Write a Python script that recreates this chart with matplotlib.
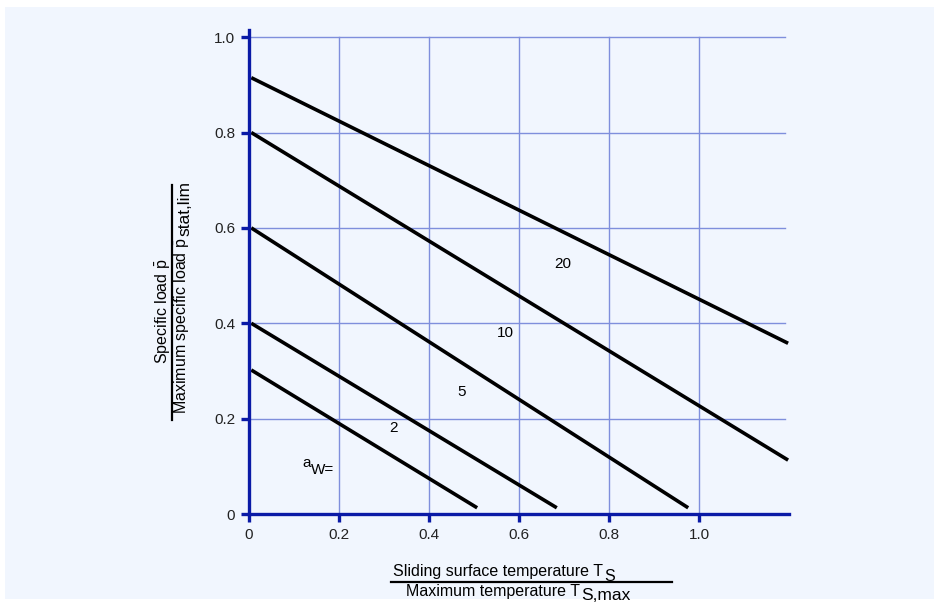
import numpy as np
import matplotlib
matplotlib.use("Agg")
from matplotlib import pyplot as plt
from matplotlib.lines import Line2D
from matplotlib.patches import Rectangle

# Werte
curve_names = ["1", "2", "5", "10", "20"]
x_start = [0.005, 0.005, 0.005, 0.005, 0.005]
y_start = [0.302, 0.400, 0.600, 0.800, 0.915]
x_end = [0.507, 0.684, 0.976, 1.198, 1.198]
y_end = [0.013, 0.013, 0.013, 0.113, 0.358]

label_text = ["2", "5", "10", "20"]
label_x = [0.320, 0.473, 0.569, 0.698]
label_y = [0.180, 0.256, 0.379, 0.524]

ticks = [0, 0.2, 0.4, 0.6, 0.8, 1.0]
tick_labels = ["0", "0.2", "0.4", "0.6", "0.8", "1.0"]

bg = "#f1f6fe"
blue = "#0a1aa6"
grid_c = "#7f8fdc"

plt.rcParams["font.family"] = ["Liberation Sans", "DejaVu Sans"]
plt.rcParams["mathtext.fontset"] = "custom"
plt.rcParams["mathtext.rm"] = "Liberation Sans"
plt.rcParams["mathtext.it"] = "Liberation Sans:italic"
plt.rcParams["font.size"] = 10

W, H = 939, 604
fig = plt.figure(figsize=(W / 100, H / 100), dpi=100, facecolor="white")
fig.patches.append(Rectangle((5 / W, 5 / H), 1 - 10 / W, 1 - 12 / H,
                             transform=fig.transFigure, facecolor=bg,
                             edgecolor="none", zorder=-10))

ax = fig.add_axes([249 / W, 1 - 514 / H, 540 / W, 484 / H])
ax.patch.set_alpha(0)
ax.set_xlim(0, 1.2)
ax.set_ylim(0, 1.015)

# Gitter
for t in ticks[1:]:
    ax.plot([t, t], [0, 1.0], color=grid_c, lw=1.0, zorder=1)
    ax.plot([0, 1.19], [t, t], color=grid_c, lw=1.0, zorder=1)

for i in range(len(curve_names)):
    ax.plot([x_start[i], x_end[i]], [y_start[i], y_end[i]], color="black",
            lw=2.6, solid_capstyle="butt", zorder=3)

for i in range(len(label_text)):
    ax.text(label_x[i], label_y[i], label_text[i], ha="center", va="center",
            fontsize=11, zorder=4)

# a_W=
ta = ax.text(0.118, 0.107, "a", ha="left", va="center", fontsize=11)
ax.annotate("W=", xy=(1, 0), xycoords=ta, xytext=(0, -5),
            textcoords="offset points", ha="left", va="bottom", fontsize=11)

for s in ["top", "right"]:
    ax.spines[s].set_visible(False)
for s in ["left", "bottom"]:
    ax.spines[s].set_color(blue)
    ax.spines[s].set_linewidth(2.4)
    ax.spines[s].set_zorder(5)

ax.set_xticks(ticks)
ax.set_xticklabels(tick_labels)
ax.set_yticks(ticks)
ax.set_yticklabels(tick_labels)
ax.tick_params(direction="out", length=6, width=2.4, color=blue,
               labelcolor="#222222", labelsize=11, pad=4)

fs = 11.5

# x-Achsenbeschriftung als Bruch
t1 = fig.text(393 / W, 1 - 576 / H, "Sliding surface temperature T",
              ha="left", va="baseline", fontsize=fs)
ax.annotate("S", xy=(1, H - 581), xycoords=(t1, "figure pixels"),
            xytext=(1, 0), textcoords="offset points", annotation_clip=False,
            ha="left", va="baseline", fontsize=fs)
fig.lines.append(Line2D([391 / W, 672 / W], [1 - 582 / H, 1 - 582 / H],
                        transform=fig.transFigure, color="black", lw=1.6))
t2 = fig.text(406 / W, 1 - 596 / H, "Maximum temperature T",
              ha="left", va="baseline", fontsize=fs)
ax.annotate("S,max", xy=(1, H - 600), xycoords=(t2, "figure pixels"),
            xytext=(1, 0), textcoords="offset points", annotation_clip=False,
            ha="left", va="baseline", fontsize=fs + 1)

# y-Achsenbeschriftung als Bruch
t3 = fig.text(168 / W, 1 - 364 / H, "Specific load $\\bar{\\mathregular{p}}$",
              ha="left", va="baseline", rotation=90, rotation_mode="anchor",
              fontsize=fs)
fig.lines.append(Line2D([172 / W, 172 / W], [1 - 185 / H, 1 - 420 / H],
                        transform=fig.transFigure, color="black", lw=1.6))
t4 = fig.text(186.5 / W, 1 - 414 / H,
              "Maximum specific load $\\bar{\\mathregular{p}}$",
              ha="left", va="baseline", rotation=90, rotation_mode="anchor",
              fontsize=fs)
ax.annotate("stat,lim", xy=(189, 1), xycoords=("figure pixels", t4),
            xytext=(0, 1), textcoords="offset points", annotation_clip=False,
            ha="left", va="baseline", rotation=90, rotation_mode="anchor",
            fontsize=fs + 1)

fig.savefig("out.png", dpi=100, facecolor="white")
